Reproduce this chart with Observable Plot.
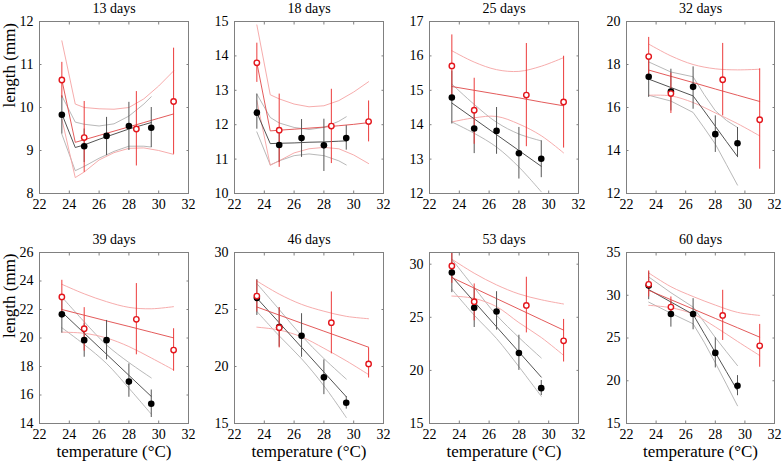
<!DOCTYPE html>
<html><head><meta charset="utf-8">
<script src="https://cdn.jsdelivr.net/npm/d3@7"></script>
<script src="https://cdn.jsdelivr.net/npm/@observablehq/plot@0.6"></script>
<style>
body{margin:0;background:#fff;}
#chart{position:relative;width:782px;height:461px;overflow:hidden;font-family:"Liberation Serif","Times New Roman",serif;}
#chart svg{position:absolute;overflow:visible;}
#chart svg text{font-family:"Liberation Serif","Times New Roman",serif !important;}
</style></head><body><div id="chart"></div>
<script>
// ---------- data ----------
const titles = ["13 days","18 days","25 days","32 days","39 days","46 days","53 days","60 days"];
const xBlack = [23.5, 25, 26.5, 28, 29.5];
const xRed = [23.5, 25, 28.5, 31];
const xTicks = [22, 24, 26, 28, 30, 32];
const xDomain = [22, 32];
const yDomains = [[8,12],[10,15],[12,17],[12,20],[14,26],[15,30],[15,31.1],[15,35]];
const yTicks = [[8,9,10,11,12],[10,11,12,13,14,15],[12,13,14,15,16,17],[12,14,16,18,20],
                [14,16,18,20,22,24,26],[15,20,25,30],[15,20,25,30],[15,20,25,30,35]];

// black (filled) means and error bars
const blackMean = [[9.83,9.10,9.34,9.57,9.53],[12.35,11.41,11.61,11.40,11.61],[14.79,13.89,13.82,13.17,13.01],
  [17.43,16.74,16.96,14.76,14.34],[21.66,19.85,19.85,16.94,15.39],[26.01,23.45,22.69,19.05,16.82],
  [29.21,25.9,25.55,21.64,18.33],[31.13,27.8,27.8,23.26,19.42]];
const blackLow = [[9.38,8.72,8.88,9.0,9.07],[11.87,10.9,11.05,10.64,11.26],[14.02,13.16,13.14,12.42,12.46],
  [16.47,15.84,15.92,13.91,13.67],[20.34,18.65,18.47,15.84,14.42],[24.48,21.7,20.81,17.53,16.26],
  [27.32,24.04,23.79,20.0,17.63],[29.48,26.27,25.96,21.5,18.25]];
const blackHigh = [[10.27,9.5,9.77,10.12,10.0],[12.89,11.9,12.15,12.16,11.97],[15.56,14.35,14.5,13.92,13.53],
  [18.35,17.78,17.89,15.61,15.07],[22.95,21.0,21.23,18.18,16.35],[27.62,25.16,24.63,20.58,17.35],
  [31.1,27.7,27.41,23.31,19.05],[32.73,29.3,29.6,25.02,20.6]];

// red (open) means and error bars
const redMean = [[10.64,9.30,9.50,10.14],[13.80,11.84,11.96,12.09],[15.71,14.42,14.86,14.66],
  [18.37,16.65,17.29,15.43],[22.88,20.65,21.31,19.15],[26.18,23.40,23.84,20.23],
  [29.84,26.47,26.12,22.78],[31.28,28.62,27.64,24.08]];
const redLow = [[10.22,8.49,8.64,8.91],[13.23,10.76,10.87,11.50],[14.81,13.43,13.36,13.32],
  [17.5,15.72,15.61,13.13],[21.7,19.08,18.82,17.67],[24.78,21.63,21.11,18.99],
  [28.2,24.67,23.53,20.79],[29.8,27.5,24.71,21.58]];
const redHigh = [[11.05,10.14,10.37,11.38],[14.37,12.89,13.03,12.69],[16.61,15.35,16.36,15.99],
  [19.26,17.6,18.98,17.8],[24.05,22.13,23.82,20.65],[27.56,25.16,26.54,21.63],
  [31.5,28.14,28.77,24.8],[32.85,29.8,30.58,26.59]];

// fitted curves (black)
const blackFitX = [[23.5,24.4,25,26,27,28,29,29.5],[23.5,24.4,25,26,27,28,29,29.5],[23.5,25,26.5,28,29.5],
  [23.5,25,26.5,27.25,28,28.75,29.5],[23.5,25,26.5,28,29.5],[23.5,25,26.5,28,29.5],[23.5,25,26.5,28,29.5],
  [23.5,25,26.5,27.25,28,28.75,29.5]];
const blackFit = [[9.85,9.07,9.13,9.26,9.38,9.5,9.6,9.65],[12.35,11.45,11.46,11.47,11.49,11.5,11.52,11.53],
  [14.63,14.17,13.71,13.25,12.79],[17.32,16.93,16.54,15.84,15.13,14.42,13.72],[21.82,20.34,18.86,17.38,15.9],
  [26.0,23.84,21.68,19.51,17.35],[28.83,26.47,24.1,21.74,19.37],[30.66,29.21,27.76,25.53,23.3,21.07,18.84]];
const blackFitHigh = [[10.27,9.66,9.61,9.57,9.62,9.8,10.08,10.25],[12.89,12.21,12.05,11.92,11.86,11.92,12.1,12.23],
  [15.18,14.59,14.07,13.73,13.53],[18.12,17.65,17.43,16.6,15.85,15.4,15.07],[22.88,21.14,19.51,18.28,17.2],
  [27.27,25.0,22.7,20.7,18.9],[30.47,27.8,25.2,23.1,21.17],[32.14,30.3,28.62,26.85,25.05,23.4,21.77]];
const blackFitLow = [[9.38,8.53,8.63,8.82,8.98,9.1,9.1,9.08],[11.79,10.83,10.95,11.1,11.15,11.1,10.95,10.83],
  [14.08,13.75,13.35,12.77,12.05],[16.57,16.3,15.77,15.05,14.3,13.35,12.39],[20.72,19.54,18.21,16.48,14.66],
  [24.83,22.69,20.68,18.31,15.53],[27.63,25.2,23.0,20.35,17.56],[29.2,27.9,26.66,24.5,22.1,19.6,17.07]];

// fitted curves (red)
const redFitX = [[23.5,24.4,25,26,27,28,29,30,31],[23.5,24.4,25,26,27,28,29,30,31],
  [23.5,25,26.5,28,29.5,31],[23.5,25,26.5,28,29.5,31],[23.5,25,26.5,28,29.5,31],
  [23.5,25,26.5,28,29.5,31],[23.5,25,26.5,28,29.5,31],[23.5,25,26.5,28,29.5,31]];
const redFit = [[10.64,9.19,9.25,9.35,9.45,9.55,9.65,9.75,9.85],[13.8,11.82,11.84,11.87,11.9,11.93,11.97,12.01,12.06],
  [15.11,15.0,14.89,14.78,14.66,14.55],[17.74,17.45,17.16,16.86,16.57,16.28],[22.0,21.6,21.2,20.81,20.41,20.01],
  [25.22,24.51,23.8,23.1,22.4,21.69],[28.74,27.75,26.76,25.77,24.78,23.79],[30.58,29.48,28.39,27.29,26.2,25.1]];
const redFitHigh = [[11.55,10.08,10.0,9.97,9.96,10.0,10.2,10.5,10.85],[14.9,12.87,12.75,12.6,12.52,12.55,12.7,12.95,13.25],
  [16.15,15.82,15.6,15.55,15.7,15.95],[18.95,18.4,18.0,17.8,17.75,17.78],[23.77,23.1,22.55,22.15,22.05,22.2],
  [27.5,26.35,25.45,24.85,24.4,24.19],[30.47,29.15,28.05,27.2,26.65,26.25],[32.61,31.0,29.85,28.85,28.0,27.64]];
const redFitLow = [[9.73,8.37,8.5,8.78,8.95,9.05,9.06,9.0,8.91],[12.7,10.82,10.95,11.18,11.3,11.34,11.3,11.12,10.87],
  [14.08,14.2,14.24,14.02,13.68,13.18],[16.57,16.54,16.23,15.75,15.25,14.68],[20.41,20.33,20.0,19.4,18.6,17.76],
  [23.45,23.2,22.6,21.6,20.5,19.29],[27.0,26.78,26.0,24.5,23.1,21.42],[28.82,28.54,27.8,26.3,24.6,22.95]];

// ---------- layout ----------
const colLeft = [39, 234, 429, 626];
const colWidth = [149, 149, 149, 148];
const rowTop = [21, 252];
const rowHeight = [172, 171];
const svgWidth = 195;
const kinkedBlack = [true, true, false, true, false, false, false, true];
const kinkedRed = [true, true, false, false, false, false, false, false];
const FONT = '"Liberation Serif", "Times New Roman", serif';

const chart = document.getElementById("chart");
const toPts = (xs, ys) => xs.map((x, i) => ({x, y: ys[i]}));
const intFmt = d3.format("d");

for (let p = 0; p < 8; p++) {
  const r = Math.floor(p / 4), c = p % 4;
  const mL = 39, mR = svgWidth - mL - colWidth[c];
  const mT = r === 0 ? 21 : 22;
  const mB = r === 0 ? 25 : 38;
  const H = mT + rowHeight[r] + mB;

  const bPts = xBlack.map((x, i) => ({x, y: blackMean[p][i], lo: blackLow[p][i], hi: blackHigh[p][i]}));
  const rPts = xRed.map((x, i) => ({x, y: redMean[p][i], lo: redLow[p][i], hi: redHigh[p][i]}));
  const bCurve = kinkedBlack[p] ? "linear" : "catmull-rom";
  const rCurve = kinkedRed[p] ? "linear" : "catmull-rom";

  const marks = [
    Plot.line(toPts(blackFitX[p], blackFitHigh[p]), {x: "x", y: "y", stroke: "#a6a6a6", strokeWidth: 0.8, curve: bCurve, clip: true}),
    Plot.line(toPts(blackFitX[p], blackFitLow[p]), {x: "x", y: "y", stroke: "#a6a6a6", strokeWidth: 0.8, curve: bCurve, clip: true}),
    Plot.line(toPts(redFitX[p], redFitHigh[p]), {x: "x", y: "y", stroke: "#f5a3a3", strokeWidth: 0.9, curve: rCurve, clip: true}),
    Plot.line(toPts(redFitX[p], redFitLow[p]), {x: "x", y: "y", stroke: "#f5a3a3", strokeWidth: 0.9, curve: rCurve, clip: true}),
    Plot.line(toPts(blackFitX[p], blackFit[p]), {x: "x", y: "y", stroke: "#404040", strokeWidth: 0.9, clip: true}),
    Plot.line(toPts(redFitX[p], redFit[p]), {x: "x", y: "y", stroke: "#e04848", strokeWidth: 0.9, clip: true}),
    Plot.ruleX(bPts, {x: "x", y1: "lo", y2: "hi", stroke: "#555", strokeWidth: 1, clip: true}),
    Plot.ruleX(rPts, {x: "x", y1: "lo", y2: "hi", stroke: "#ec3b3b", strokeWidth: 1, clip: true}),
    Plot.dot(bPts, {x: "x", y: "y", r: 3.3, fill: "#000", stroke: "none"}),
    Plot.dot(rPts, {x: "x", y: "y", r: 2.7, fill: "#fff", stroke: "#e3161c", strokeWidth: 1.4}),
    Plot.frame({stroke: "#808080", strokeWidth: 1}),
    Plot.axisX({ticks: xTicks, tickSize: -2.5, tickPadding: 8, tickFormat: intFmt, stroke: "#808080", fill: "#000", label: null, fontSize: 14}),
    Plot.axisX({anchor: "top", ticks: xTicks, tickSize: -2.5, tickFormat: () => "", stroke: "#808080", label: null}),
    Plot.axisY({ticks: yTicks[p], tickSize: -2.5, tickPadding: 8.5, tickFormat: intFmt, stroke: "#808080", fill: "#000", label: null, fontSize: 14}),
    Plot.axisY({anchor: "right", ticks: yTicks[p], tickSize: -2.5, tickFormat: () => "", stroke: "#808080", label: null}),
    Plot.text([titles[p]], {text: d => d, frameAnchor: "top", dy: -12.5, lineAnchor: "middle", fontSize: 14, fill: "#000"})
  ];
  if (c === 0) marks.push(Plot.text(["length (mm)"], {text: d => d, frameAnchor: "left", dx: -30, rotate: -90, lineAnchor: "middle", fontSize: 17, fill: "#000"}));
  if (r === 1) marks.push(Plot.text(["temperature (°C)"], {text: d => d, frameAnchor: "bottom", dy: 28.5, lineAnchor: "middle", fontSize: 17, fill: "#000"}));

  const svg = Plot.plot({
    width: svgWidth, height: H,
    marginLeft: mL, marginRight: mR, marginTop: mT, marginBottom: mB,
    x: {domain: xDomain, label: null},
    y: {domain: yDomains[p], label: null},
    style: {fontFamily: FONT, fontSize: "14px", background: "transparent", color: "#000", overflow: "visible"},
    marks
  });
  svg.style.left = (colLeft[c] - mL) + "px";
  svg.style.top = (rowTop[r] - mT) + "px";
  chart.appendChild(svg);
}
</script></body></html>
